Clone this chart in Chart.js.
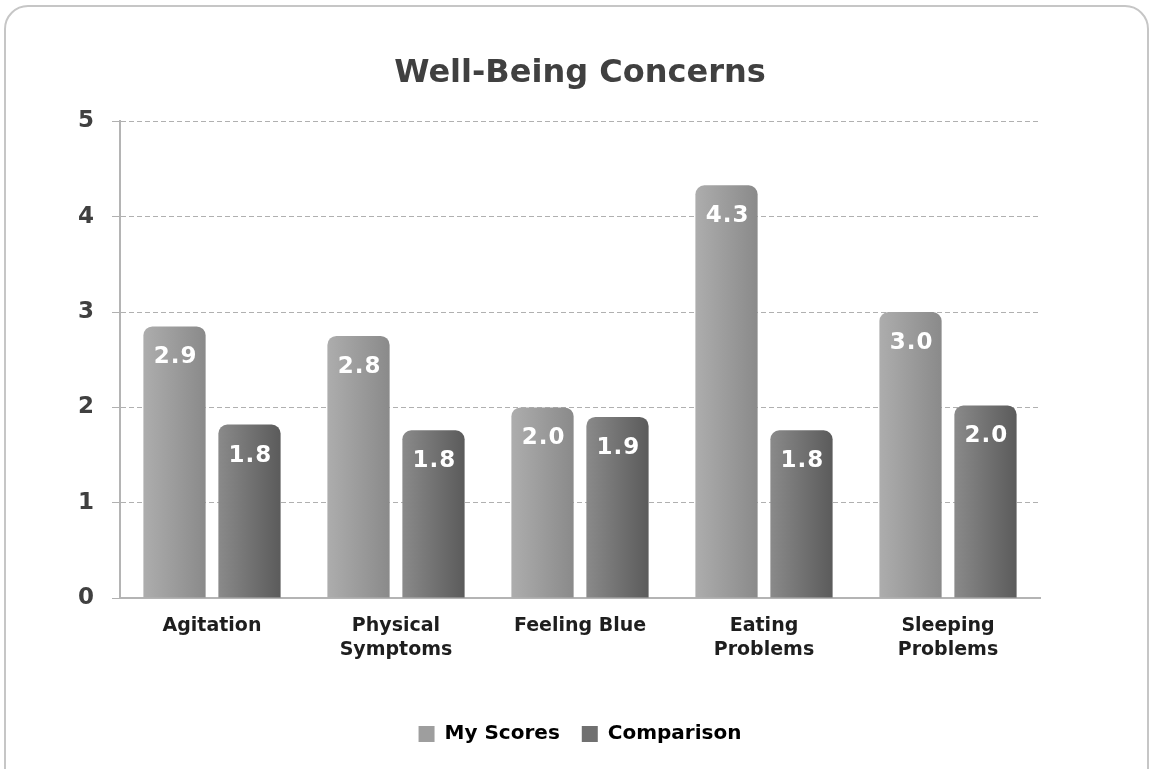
<!DOCTYPE html>
<html>
<head>
<meta charset="utf-8">
<script src="https://cdn.jsdelivr.net/npm/chart.js@4.4.1/dist/chart.umd.min.js"></script>
<style>
  html, body { margin: 0; padding: 0; background: #fff; }
  .frame {
    position: absolute; left: 4px; top: 5px;
    width: 1141px; height: 790px;
    border: 2px solid #c6c6c6; border-radius: 24px;
    overflow: hidden;
  }
  .box { position: absolute; left: 0; top: 0; width: 1141px; height: 762px; }
</style>
</head>
<body>
<div class="frame"><div class="box"><canvas id="chart"></canvas></div></div>
<script>
// Chart data
const categories = ['Agitation', ['Physical', 'Symptoms'], 'Feeling Blue', ['Eating', 'Problems'], ['Sleeping', 'Problems']]
const myScores = [2.85, 2.75, 2.0, 4.33, 3.0]
const comparison = [1.82, 1.76, 1.9, 1.76, 2.02]
const yTicks = [0, 1, 2, 3, 4, 5]

const FONT = '"DejaVu Sans", sans-serif'

// horizontal gradient per bar, needs element geometry from a previous layout pass
function barGradient(light, dark) {
  return (c) => {
    const el = c.element
    if (!el || !isFinite(el.x) || !isFinite(el.width) || !el.width) return dark
    const left = el.x - el.width / 2
    const g = c.chart.ctx.createLinearGradient(left, 0, left + el.width, 0)
    g.addColorStop(0, light)
    g.addColorStop(1, dark)
    return g
  }
}

// white value labels inside the top of each bar
const valueLabels = {
  id: 'valueLabels',
  afterDatasetsDraw(chart) {
    const ctx = chart.ctx
    ctx.save()
    ctx.font = 'bold 23px ' + FONT
    ctx.fillStyle = '#ffffff'
    ctx.textAlign = 'center'
    ctx.textBaseline = 'middle'
    if ('letterSpacing' in ctx) ctx.letterSpacing = '1px'
    chart.data.datasets.forEach((ds, di) => {
      chart.getDatasetMeta(di).data.forEach((bar, i) => {
        ctx.fillText(ds.data[i].toFixed(1), bar.x + 1, bar.y + 31)
      })
    })
    ctx.restore()
  }
}

const chart = new Chart(document.getElementById('chart'), {
  type: 'bar',
  data: {
    labels: categories,
    datasets: [
      {
        label: 'My Scores',
        data: myScores,
        backgroundColor: barGradient('#adadad', '#8a8a8a'),
        borderRadius: 9,
        borderSkipped: 'start',
      },
      {
        label: 'Comparison',
        data: comparison,
        backgroundColor: barGradient('#8a8a8a', '#5b5b5b'),
        borderRadius: 9,
        borderSkipped: 'start',
      },
    ],
  },
  options: {
    responsive: true,
    maintainAspectRatio: false,
    animation: false,
    categoryPercentage: 0.815,
    barPercentage: 0.83,
    layout: { padding: { left: 30, right: 107, bottom: 15 } },
    plugins: {
      title: {
        display: true,
        fullSize: false,
        text: 'Well-Being Concerns',
        color: '#404040',
        font: { family: FONT, size: 32, weight: 'bold' },
        padding: { top: 47, bottom: 29 },
      },
      legend: {
        position: 'bottom',
        fullSize: false,
        labels: {
          color: '#262626',
          font: { family: FONT, size: 20, weight: 'bold' },
          boxWidth: 16,
          boxHeight: 16,
          padding: 22,
          generateLabels: () => [
            { text: 'My Scores', fillStyle: '#9e9e9e', strokeStyle: '#9e9e9e', lineWidth: 0, datasetIndex: 0 },
            { text: 'Comparison', fillStyle: '#707070', strokeStyle: '#707070', lineWidth: 0, datasetIndex: 1 },
          ],
        },
      },
      tooltip: { enabled: false },
    },
    scales: {
      x: {
        grid: { display: false, drawTicks: false },
        border: { display: true, color: '#b4b4b4', width: 2 },
        afterFit: (axis) => { axis.height += 24 },
        ticks: {
          color: '#1e1e1e',
          font: { family: FONT, size: 19, weight: 'bold', lineHeight: 1.26 },
          padding: 16,
          maxRotation: 0,
          autoSkip: false,
        },
      },
      y: {
        min: 0,
        max: 5,
        afterBuildTicks: (axis) => { axis.ticks = yTicks.map(v => ({ value: v })) },
        afterFit: (axis) => { axis.width = 84 },
        grid: { color: '#b0b0b0', lineWidth: 1, tickLength: 8, tickColor: '#b0b0b0' },
        border: { display: true, color: '#b4b4b4', width: 2, dash: [5, 3] },
        ticks: {
          color: '#404040',
          font: { family: FONT, size: 23, weight: 'bold' },
          padding: 18,
        },
      },
    },
  },
  plugins: [valueLabels],
})
// second pass so the gradients can read each bar's position
chart.update()
</script>
</body>
</html>
